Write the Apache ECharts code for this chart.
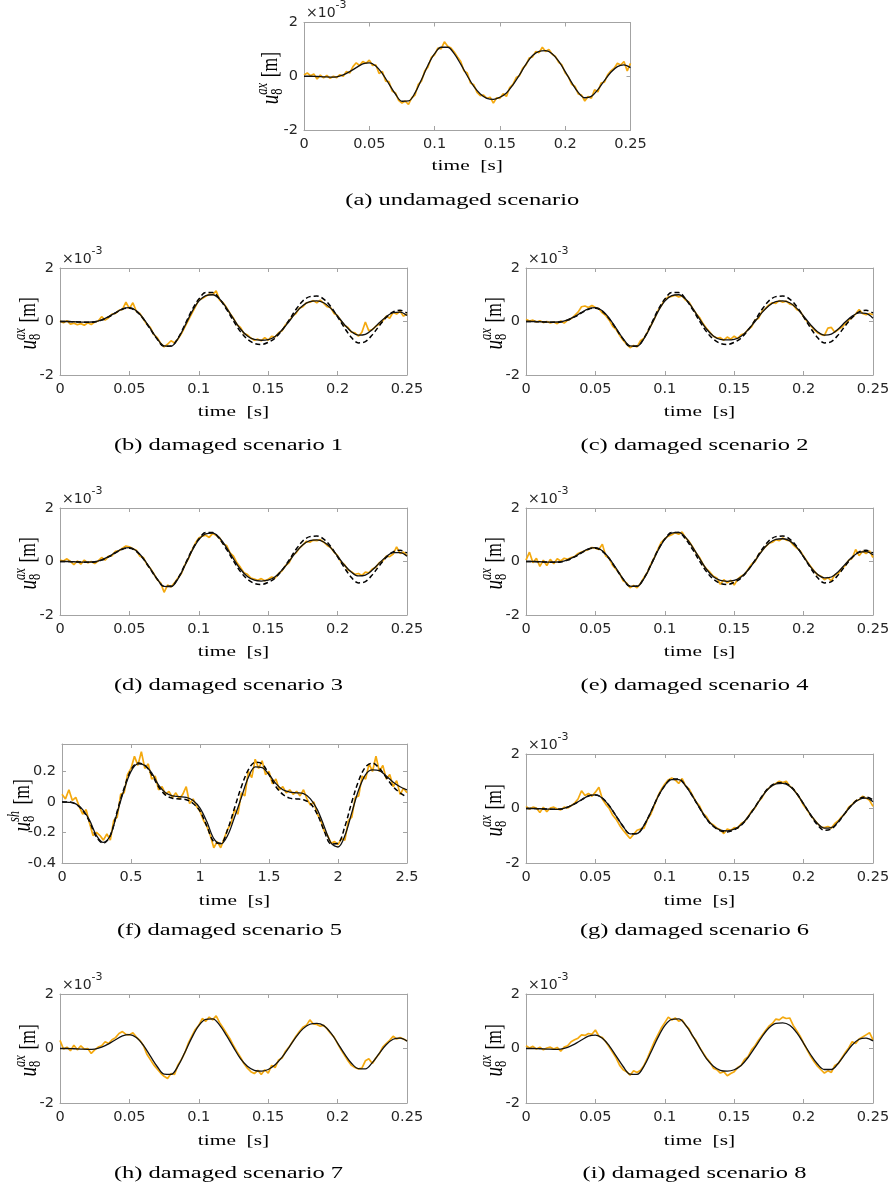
<!DOCTYPE html>
<html><head><meta charset="utf-8">
<script src="https://cdn.jsdelivr.net/npm/echarts@6/dist/echarts.min.js"></script>
<style>html,body{margin:0;padding:0;background:#fff}#c{width:893px;height:1191px}</style>
</head><body><div id="c"></div>
<script>
// ---------- tick labels ----------
const xTicksShort = [0, 0.05, 0.1, 0.15, 0.2, 0.25];
const xTicksLong = [0, 0.5, 1, 1.5, 2, 2.5];
const yTicksAx = [-2, 0, 2];          // x 10^-3 m
const yTicksSh = [-0.4, -0.2, 0, 0.2];
const yMaxSh = 0.38;

// ---------- time samples ----------
const tModel = [0,0.005,0.01,0.015,0.02,0.025,0.03,0.035,0.04,0.045,
  0.05,0.055,0.06,0.065,0.07,0.075,0.08,0.085,0.09,0.095,
  0.1,0.105,0.11,0.115,0.12,0.125,0.13,0.135,0.14,0.145,
  0.15,0.155,0.16,0.165,0.17,0.175,0.18,0.185,0.19,0.195,
  0.2,0.205,0.21,0.215,0.22,0.225,0.23,0.235,0.24,0.245,0.25];
const tMeas = [0,0.0025,0.005,0.0075,0.01,0.0125,0.015,0.0175,0.02,0.0225,
  0.025,0.0275,0.03,0.0325,0.035,0.0375,0.04,0.0425,0.045,0.0475,
  0.05,0.0525,0.055,0.0575,0.06,0.0625,0.065,0.0675,0.07,0.0725,
  0.075,0.0775,0.08,0.0825,0.085,0.0875,0.09,0.0925,0.095,0.0975,
  0.1,0.1025,0.105,0.1075,0.11,0.1125,0.115,0.1175,0.12,0.1225,
  0.125,0.1275,0.13,0.1325,0.135,0.1375,0.14,0.1425,0.145,0.1475,
  0.15,0.1525,0.155,0.1575,0.16,0.1625,0.165,0.1675,0.17,0.1725,
  0.175,0.1775,0.18,0.1825,0.185,0.1875,0.19,0.1925,0.195,0.1975,
  0.2,0.2025,0.205,0.2075,0.21,0.2125,0.215,0.2175,0.22,0.2225,
  0.225,0.2275,0.23,0.2325,0.235,0.2375,0.24,0.2425,0.245,0.2475,0.25];
const tModelF = [0,0.05,0.1,0.15,0.2,0.25,0.3,0.35,0.4,0.45,
  0.5,0.55,0.6,0.65,0.7,0.75,0.8,0.85,0.9,0.95,
  1,1.05,1.1,1.15,1.2,1.25,1.3,1.35,1.4,1.45,
  1.5,1.55,1.6,1.65,1.7,1.75,1.8,1.85,1.9,1.95,
  2,2.05,2.1,2.15,2.2,2.25,2.3,2.35,2.4,2.45,2.5];
const tMeasF = [0,0.025,0.05,0.075,0.1,0.125,0.15,0.175,0.2,0.225,
  0.25,0.275,0.3,0.325,0.35,0.375,0.4,0.425,0.45,0.475,
  0.5,0.525,0.55,0.575,0.6,0.625,0.65,0.675,0.7,0.725,
  0.75,0.775,0.8,0.825,0.85,0.875,0.9,0.925,0.95,0.975,
  1,1.025,1.05,1.075,1.1,1.125,1.15,1.175,1.2,1.225,
  1.25,1.275,1.3,1.325,1.35,1.375,1.4,1.425,1.45,1.475,
  1.5,1.525,1.55,1.575,1.6,1.625,1.65,1.675,1.7,1.725,
  1.75,1.775,1.8,1.825,1.85,1.875,1.9,1.925,1.95,1.975,
  2,2.025,2.05,2.075,2.1,2.125,2.15,2.175,2.2,2.225,
  2.25,2.275,2.3,2.325,2.35,2.375,2.4,2.425,2.45,2.475,2.5];

// ---------- model responses (x 10^-3 m) ----------
const modelUndamaged = [0.00,0.00,-0.01,-0.02,-0.03,-0.02,0.05,0.17,0.32,0.46,
  0.50,0.38,0.10,-0.28,-0.66,-0.93,-0.92,-0.62,-0.12,0.42,
  0.84,1.08,1.08,0.84,0.45,0.02,-0.38,-0.66,-0.82,-0.86,
  -0.78,-0.62,-0.32,0.05,0.45,0.77,0.93,0.95,0.84,0.56,
  0.17,-0.24,-0.60,-0.80,-0.75,-0.50,-0.16,0.15,0.36,0.42,0.32];
const modelB = [0,0,-0.01,-0.02,-0.02,-0.01,0.06,0.18,0.33,0.47,
  0.52,0.40,0.12,-0.26,-0.64,-0.91,-0.92,-0.64,-0.16,0.36,
  0.76,0.97,1.00,0.84,0.50,0.10,-0.28,-0.54,-0.67,-0.70,
  -0.68,-0.56,-0.32,0.00,0.34,0.60,0.74,0.77,0.70,0.50,
  0.20,-0.12,-0.38,-0.51,-0.48,-0.30,-0.05,0.18,0.33,0.35,0.22];
const modelC = [0,0,-0.01,-0.02,-0.02,-0.01,0.06,0.18,0.34,0.47,
  0.52,0.40,0.12,-0.26,-0.64,-0.91,-0.92,-0.64,-0.16,0.36,
  0.76,0.97,1.00,0.84,0.50,0.10,-0.28,-0.54,-0.67,-0.69,
  -0.67,-0.55,-0.31,0.00,0.33,0.59,0.74,0.77,0.70,0.50,
  0.20,-0.12,-0.38,-0.51,-0.47,-0.28,-0.02,0.20,0.32,0.30,0.12];
const modelD = [0,0,-0.01,-0.02,-0.02,-0.01,0.06,0.18,0.34,0.47,
  0.52,0.40,0.12,-0.26,-0.65,-0.93,-0.94,-0.65,-0.15,0.39,
  0.81,1.03,1.06,0.88,0.52,0.10,-0.29,-0.56,-0.70,-0.73,
  -0.70,-0.57,-0.32,0.00,0.35,0.63,0.78,0.81,0.73,0.52,
  0.20,-0.14,-0.40,-0.54,-0.51,-0.32,-0.06,0.18,0.33,0.33,0.20];
const modelE = [0,0,-0.01,-0.02,-0.02,-0.01,0.06,0.18,0.34,0.47,
  0.52,0.40,0.12,-0.26,-0.65,-0.92,-0.93,-0.64,-0.14,0.40,
  0.83,1.06,1.09,0.90,0.54,0.12,-0.29,-0.57,-0.71,-0.74,
  -0.71,-0.58,-0.32,0.02,0.39,0.68,0.83,0.85,0.77,0.54,
  0.18,-0.20,-0.48,-0.61,-0.58,-0.38,-0.10,0.17,0.34,0.37,0.25];
const modelG = [0,0,-0.01,-0.02,-0.03,-0.02,0.05,0.17,0.32,0.46,
  0.50,0.38,0.10,-0.28,-0.66,-0.93,-0.92,-0.62,-0.12,0.42,
  0.84,1.06,1.06,0.83,0.45,0.03,-0.37,-0.64,-0.79,-0.82,
  -0.76,-0.60,-0.31,0.05,0.43,0.74,0.90,0.92,0.82,0.55,
  0.17,-0.22,-0.55,-0.72,-0.70,-0.48,-0.16,0.14,0.33,0.38,0.25];
const modelH = [0,0,-0.01,-0.02,-0.03,-0.02,0.05,0.17,0.32,0.46,
  0.51,0.40,0.12,-0.27,-0.66,-0.94,-0.95,-0.65,-0.14,0.40,
  0.84,1.07,1.09,0.86,0.47,0.04,-0.37,-0.65,-0.80,-0.83,
  -0.77,-0.60,-0.32,0.04,0.42,0.72,0.89,0.92,0.84,0.58,
  0.20,-0.20,-0.54,-0.74,-0.75,-0.52,-0.18,0.14,0.34,0.38,0.27];
const modelI = [0,0,-0.01,-0.02,-0.03,-0.02,0.04,0.16,0.31,0.45,
  0.49,0.38,0.10,-0.28,-0.66,-0.94,-0.95,-0.65,-0.14,0.40,
  0.84,1.07,1.09,0.86,0.47,0.04,-0.37,-0.65,-0.80,-0.83,
  -0.78,-0.62,-0.33,0.04,0.43,0.75,0.92,0.94,0.85,0.58,
  0.19,-0.22,-0.57,-0.77,-0.77,-0.54,-0.20,0.13,0.34,0.38,0.28];
// shear response, scenario 5 (m)
const modelF = [0.000,-0.002,-0.012,-0.05,-0.12,-0.22,-0.265,-0.22,-0.07,0.08,
  0.20,0.25,0.24,0.19,0.11,0.06,0.04,0.035,0.03,0.01,
  -0.04,-0.13,-0.24,-0.275,-0.22,-0.10,0.03,0.16,0.23,0.225,
  0.18,0.12,0.08,0.065,0.06,0.055,0.02,-0.05,-0.16,-0.27,
  -0.295,-0.22,-0.07,0.08,0.18,0.21,0.205,0.17,0.13,0.10,0.08];
const modelFUndamaged = [0.00,0.00,-0.015,-0.055,-0.13,-0.23,-0.27,-0.22,-0.06,0.09,
  0.21,0.255,0.24,0.18,0.10,0.045,0.025,0.02,0.015,-0.01,
  -0.06,-0.16,-0.26,-0.27,-0.18,-0.04,0.10,0.21,0.26,0.25,
  0.18,0.10,0.05,0.025,0.02,0.015,-0.01,-0.08,-0.19,-0.275,
  -0.27,-0.16,0.00,0.14,0.23,0.255,0.22,0.16,0.10,0.06,0.03];

// ---------- measured (noisy) responses ----------
const measA = [0.05,0.12,0.02,0.08,-0.10,0.04,-0.06,0.03,-0.08,0.00,
  -0.05,0.06,0.00,0.18,0.12,0.36,0.50,0.40,0.55,0.48,
  0.60,0.40,0.42,0.10,0.18,-0.18,-0.20,-0.55,-0.62,-0.90,
  -1.00,-0.92,-1.05,-0.80,-0.70,-0.30,-0.18,0.20,0.35,0.70,
  0.80,1.05,1.02,1.28,1.12,1.05,0.90,0.72,0.55,0.20,
  0.12,-0.25,-0.32,-0.60,-0.72,-0.70,-0.82,-0.78,-1.00,-0.80,
  -0.82,-0.65,-0.75,-0.42,-0.30,-0.05,0.02,0.30,0.42,0.68,
  0.72,0.92,0.88,1.08,0.92,1.00,0.82,0.74,0.52,0.42,
  0.12,-0.02,-0.30,-0.38,-0.66,-0.70,-0.92,-0.75,-0.82,-0.50,
  -0.58,-0.25,-0.22,0.05,0.20,0.30,0.48,0.42,0.55,0.20,0.48];
const measB = [0.02,-0.05,0.03,-0.10,-0.06,-0.12,-0.08,-0.14,-0.05,-0.11,
  -0.02,0.02,0.18,0.05,0.14,0.28,0.30,0.42,0.45,0.72,
  0.48,0.70,0.38,0.30,0.10,-0.10,-0.22,-0.48,-0.60,-0.82,
  -0.95,-0.85,-0.72,-0.80,-0.66,-0.45,-0.20,0.05,0.30,0.55,
  0.80,0.86,0.94,1.02,1.00,1.15,0.80,0.70,0.52,0.30,
  0.12,-0.12,-0.22,-0.45,-0.50,-0.62,-0.70,-0.66,-0.72,-0.60,
  -0.70,-0.55,-0.58,-0.42,-0.35,-0.12,0.02,0.20,0.30,0.50,
  0.55,0.70,0.72,0.78,0.70,0.80,0.68,0.55,0.52,0.30,
  0.22,0.02,-0.15,-0.22,-0.40,-0.42,-0.55,-0.40,-0.02,-0.35,
  -0.30,-0.18,-0.10,0.02,0.20,0.12,0.35,0.28,0.38,0.20,0.28];
const measC = [0.08,0.02,0.05,-0.02,0.03,-0.04,0.00,-0.05,-0.02,-0.08,
  0.02,-0.06,0.05,0.10,0.22,0.35,0.55,0.58,0.52,0.60,
  0.52,0.48,0.32,0.22,0.05,-0.18,-0.30,-0.52,-0.70,-0.85,
  -0.98,-0.90,-0.95,-0.72,-0.62,-0.40,-0.15,0.10,0.40,0.60,
  0.82,0.92,0.94,0.98,0.92,0.96,0.80,0.72,0.50,0.30,
  0.15,-0.08,-0.25,-0.40,-0.55,-0.62,-0.60,-0.70,-0.58,-0.66,
  -0.55,-0.64,-0.50,-0.45,-0.30,-0.20,0.05,0.12,0.38,0.48,
  0.62,0.70,0.68,0.78,0.72,0.76,0.65,0.62,0.45,0.38,
  0.18,0.00,-0.15,-0.30,-0.42,-0.48,-0.52,-0.25,-0.22,-0.40,
  -0.30,-0.22,-0.08,0.05,0.15,0.28,0.45,0.30,0.25,0.30,0.25];
const measD = [0.05,0.02,0.10,0.00,-0.12,0.02,-0.10,0.05,-0.05,0.00,
  -0.08,0.02,0.15,0.05,0.20,0.22,0.38,0.40,0.50,0.58,
  0.55,0.48,0.42,0.20,0.15,-0.10,-0.25,-0.45,-0.68,-0.80,
  -1.15,-0.88,-0.95,-0.80,-0.62,-0.45,-0.12,0.10,0.42,0.68,
  0.88,0.95,0.98,0.90,1.05,0.98,0.88,0.66,0.60,0.32,
  0.20,-0.05,-0.22,-0.42,-0.48,-0.62,-0.66,-0.70,-0.64,-0.72,
  -0.66,-0.58,-0.62,-0.45,-0.35,-0.15,-0.05,0.22,0.32,0.50,
  0.62,0.75,0.72,0.80,0.78,0.82,0.72,0.60,0.52,0.35,
  0.22,-0.02,-0.12,-0.32,-0.38,-0.48,-0.45,-0.52,-0.40,-0.42,
  -0.28,-0.22,-0.05,0.02,0.20,0.18,0.28,0.55,0.30,0.35,0.22];
const measE = [0.05,0.35,-0.05,0.12,-0.18,0.05,-0.15,0.08,-0.08,0.10,
  0.02,0.12,0.08,0.15,0.18,0.30,0.35,0.40,0.45,0.52,
  0.50,0.45,0.65,0.20,0.12,-0.15,-0.30,-0.45,-0.72,-0.80,
  -0.98,-0.90,-0.98,-0.82,-0.60,-0.40,-0.10,0.15,0.45,0.72,
  0.85,0.95,1.00,1.08,1.02,1.10,0.88,0.75,0.55,0.32,
  0.15,-0.10,-0.28,-0.40,-0.55,-0.62,-0.85,-0.68,-0.80,-0.70,
  -0.88,-0.66,-0.55,-0.48,-0.30,-0.10,0.00,0.25,0.40,0.55,
  0.68,0.72,0.82,0.78,0.88,0.80,0.78,0.62,0.50,0.40,
  0.20,0.00,-0.18,-0.35,-0.50,-0.55,-0.68,-0.60,-0.72,-0.50,
  -0.45,-0.28,-0.15,0.05,0.12,0.45,0.22,0.38,0.30,0.40,0.15];
const measF = [0.05,0.02,0.08,0.01,0.03,-0.03,-0.08,-0.05,-0.14,-0.22,
  -0.20,-0.22,-0.25,-0.21,-0.25,-0.12,-0.10,0.05,0.06,0.18,
  0.22,0.30,0.24,0.33,0.22,0.25,0.15,0.17,0.08,0.10,
  0.05,0.07,0.03,0.06,0.02,0.05,0.10,-0.01,0.02,-0.03,
  -0.06,-0.12,-0.16,-0.22,-0.30,-0.26,-0.30,-0.24,-0.18,-0.14,
  -0.05,-0.08,0.06,0.04,0.20,0.16,0.28,0.22,0.27,0.18,
  0.20,0.12,0.15,0.08,0.10,0.06,0.08,0.05,0.07,0.04,
  0.08,0.02,-0.02,0.00,-0.08,-0.12,-0.19,-0.22,-0.27,-0.26,
  -0.28,-0.24,-0.25,-0.12,-0.10,0.03,0.04,0.17,0.15,0.25,
  0.20,0.30,0.20,0.24,0.15,0.18,0.10,0.14,0.05,0.09,0.06];
const measG = [0.08,-0.02,0.05,0.02,-0.15,0.05,-0.12,0.02,0.05,-0.02,
  -0.05,0.05,0.02,0.10,0.20,0.35,0.65,0.48,0.55,0.45,
  0.60,0.78,0.35,0.15,0.00,-0.25,-0.40,-0.62,-0.80,-0.95,
  -1.10,-0.95,-0.80,-0.75,-0.72,-0.40,-0.20,0.12,0.45,0.70,
  0.90,1.05,1.12,1.05,0.92,1.10,0.82,0.72,0.48,0.25,
  0.10,-0.18,-0.30,-0.52,-0.60,-0.72,-0.78,-0.92,-0.75,-0.80,
  -0.70,-0.72,-0.55,-0.48,-0.30,-0.10,0.02,0.25,0.40,0.62,
  0.75,0.85,0.92,1.00,0.95,1.00,0.82,0.72,0.55,0.36,
  0.12,-0.05,-0.25,-0.40,-0.55,-0.68,-0.70,-0.66,-0.72,-0.55,
  -0.45,-0.30,-0.18,0.05,0.15,0.28,0.32,0.45,0.38,0.30,0.08];
const measH = [0.30,-0.02,0.05,-0.08,0.12,-0.05,0.10,-0.02,0.00,-0.18,
  -0.05,0.05,0.10,0.25,0.18,0.32,0.40,0.55,0.62,0.52,
  0.50,0.58,0.42,0.30,0.12,-0.20,-0.40,-0.60,-0.75,-0.90,
  -1.02,-1.10,-0.92,-0.95,-0.60,-0.40,-0.15,0.20,0.45,0.70,
  0.85,1.10,1.00,1.15,1.05,1.20,0.95,0.75,0.55,0.35,
  0.10,-0.12,-0.32,-0.55,-0.72,-0.85,-0.92,-0.80,-0.95,-0.78,
  -0.90,-0.62,-0.70,-0.42,-0.35,-0.10,0.05,0.25,0.45,0.62,
  0.78,0.85,1.05,0.90,0.88,0.82,0.85,0.72,0.55,0.42,
  0.18,-0.05,-0.25,-0.45,-0.62,-0.70,-0.75,-0.72,-0.45,-0.38,
  -0.55,-0.35,-0.20,0.05,0.18,0.30,0.45,0.35,0.40,0.35,0.28];
const measI = [0.10,0.02,0.08,-0.02,0.05,-0.05,0.02,0.05,-0.02,0.04,
  -0.10,0.05,0.10,0.25,0.32,0.38,0.50,0.48,0.55,0.52,
  0.68,0.45,0.40,0.25,0.05,-0.15,-0.35,-0.62,-0.78,-0.85,
  -0.98,-0.82,-0.88,-0.80,-0.62,-0.35,-0.05,0.25,0.50,0.75,
  0.95,1.15,1.05,1.12,1.00,1.05,0.85,0.72,0.45,0.30,
  0.05,-0.15,-0.35,-0.50,-0.72,-0.78,-0.90,-0.85,-1.00,-0.92,
  -0.85,-0.70,-0.62,-0.40,-0.30,-0.05,0.10,0.30,0.48,0.65,
  0.82,0.92,1.08,1.05,1.15,1.10,1.12,0.85,0.65,0.45,
  0.20,-0.05,-0.28,-0.48,-0.65,-0.78,-0.90,-0.82,-0.88,-0.62,
  -0.55,-0.35,-0.15,0.02,0.25,0.18,0.35,0.42,0.50,0.58,0.32];

// ---------- panel definitions (data references) ----------
const panelData = [
  {cap:'(a) undamaged scenario', sup:'ax', xt:xTicksShort, yt:yTicksAx, tm:tMeas, tM:tModel, meas:measA, model:modelUndamaged, dash:null},
  {cap:'(b) damaged scenario 1', sup:'ax', xt:xTicksShort, yt:yTicksAx, tm:tMeas, tM:tModel, meas:measB, model:modelB, dash:modelUndamaged},
  {cap:'(c) damaged scenario 2', sup:'ax', xt:xTicksShort, yt:yTicksAx, tm:tMeas, tM:tModel, meas:measC, model:modelC, dash:modelUndamaged},
  {cap:'(d) damaged scenario 3', sup:'ax', xt:xTicksShort, yt:yTicksAx, tm:tMeas, tM:tModel, meas:measD, model:modelD, dash:modelUndamaged},
  {cap:'(e) damaged scenario 4', sup:'ax', xt:xTicksShort, yt:yTicksAx, tm:tMeas, tM:tModel, meas:measE, model:modelE, dash:modelUndamaged},
  {cap:'(f) damaged scenario 5', sup:'sh', xt:xTicksLong, yt:yTicksSh, yMax:yMaxSh, tm:tMeasF, tM:tModelF, meas:measF, model:modelF, dash:modelFUndamaged},
  {cap:'(g) damaged scenario 6', sup:'ax', xt:xTicksShort, yt:yTicksAx, tm:tMeas, tM:tModel, meas:measG, model:modelG, dash:modelUndamaged},
  {cap:'(h) damaged scenario 7', sup:'ax', xt:xTicksShort, yt:yTicksAx, tm:tMeas, tM:tModel, meas:measH, model:modelH, dash:null},
  {cap:'(i) damaged scenario 8', sup:'ax', xt:xTicksShort, yt:yTicksAx, tm:tMeas, tM:tModel, meas:measI, model:modelI, dash:null}
];

// ---------- layout (pixels) ----------
const layout = [
  {left:304, top:22.5, w:326.5, h:107.5, timeY:165.5, capY:200, ylx:33, exp:true},
  {left:60,  top:268,  w:347,   h:107,   timeY:411.5, capY:445, ylx:31, exp:true},
  {left:526, top:268,  w:347,   h:107,   timeY:411.5, capY:445, ylx:31, exp:true},
  {left:60,  top:508,  w:347,   h:107,   timeY:651.5, capY:685, ylx:31, exp:true},
  {left:526, top:508,  w:347,   h:107,   timeY:651.5, capY:685, ylx:31, exp:true},
  {left:62,  top:744,  w:345,   h:119,   timeY:900.5, capY:930, ylx:39, exp:false},
  {left:526, top:754,  w:347,   h:109,   timeY:900.5, capY:930, ylx:31, exp:true},
  {left:60,  top:994,  w:347,   h:109,   timeY:1140.5, capY:1173, ylx:31, exp:true},
  {left:526, top:994,  w:347,   h:109,   timeY:1140.5, capY:1173, ylx:31, exp:true}
];

const BOX = '#a3a3a3', TXT = '#262626', ORANGE = '#f4a90f';
const tickFont = {fontFamily:'DejaVu Sans', fontSize:14.5, color:TXT};
const pairs = (t, v) => v.map((y, i) => [t[i], y]);

const grids = [], xAxes = [], yAxes = [], series = [], graphics = [];
panelData.forEach((p, i) => {
  const L = layout[i];
  grids.push({left:L.left, top:L.top, width:L.w, height:L.h, containLabel:false});
  const xmin = p.xt[0], xmax = p.xt[p.xt.length-1], xint = p.xt[1]-p.xt[0];
  const ymin = p.yt[0], ymax = (p.yMax !== undefined ? p.yMax : p.yt[p.yt.length-1]), yint = p.yt[1]-p.yt[0];
  const common = {type:'value', gridIndex:i, splitLine:{show:false},
    axisLine:{show:true, onZero:false, lineStyle:{color:BOX, width:1}},
    axisTick:{show:true, inside:true, length:4, lineStyle:{color:BOX, width:1}}};
  xAxes.push(Object.assign({}, common, {position:'bottom', min:xmin, max:xmax, interval:xint,
    axisLabel:Object.assign({margin:7, hideOverlap:false}, tickFont)}));
  xAxes.push(Object.assign({}, common, {position:'top', min:xmin, max:xmax, interval:xint,
    axisLabel:{show:false}}));
  yAxes.push(Object.assign({}, common, {position:'left', min:ymin, max:ymax, interval:yint,
    axisLabel:Object.assign({margin:6, showMaxLabel: p.yMax === undefined}, tickFont)}));
  yAxes.push(Object.assign({}, common, {position:'right', min:ymin, max:ymax, interval:yint,
    axisLabel:{show:false}}));
  const xi = 2*i, yi = 2*i;
  series.push({type:'line', xAxisIndex:xi, yAxisIndex:yi, data:pairs(p.tm, p.meas), showSymbol:false,
    symbol:'none', lineStyle:{color:ORANGE, width:1.7}, silent:true, z:2});
  if (p.dash) series.push({type:'line', xAxisIndex:xi, yAxisIndex:yi, data:pairs(p.tM, p.dash), showSymbol:false,
    symbol:'none', smooth:0.35, lineStyle:{color:'#000', width:1.5, type:[5,3]}, silent:true, z:3});
  series.push({type:'line', xAxisIndex:xi, yAxisIndex:yi, data:pairs(p.tM, p.model), showSymbol:false,
    symbol:'none', smooth:0.35, lineStyle:{color:'#111', width:1.3}, silent:true, z:4});

  const cx = L.left + L.w/2;
  graphics.push({type:'text', x:cx, y:L.timeY, scaleX:1.38, silent:true,
    style:{text:'time  [s]', font:'15.5px "Liberation Serif"', fill:'#000', align:'center', verticalAlign:'middle', textAlign:'center', textVerticalAlign:'middle'}});
  graphics.push({type:'text', x:cx - 5, y:L.capY, scaleX:1.4, silent:true,
    style:{text:p.cap, font:'17.5px "Liberation Serif"', fill:'#000', align:'center', verticalAlign:'middle', textAlign:'center', textVerticalAlign:'middle'}});
  if (L.exp) {
    graphics.push({type:'text', x:L.left + 2, y:L.top - 9, silent:true,
      style:{text:'×10', font:'14px "DejaVu Sans"', fill:TXT, align:'left', verticalAlign:'middle', textAlign:'left', textVerticalAlign:'middle'}});
    graphics.push({type:'text', x:L.left + 31.5, y:L.top - 17, silent:true,
      style:{text:'-3', font:'11px "DejaVu Sans"', fill:TXT, align:'left', verticalAlign:'middle', textAlign:'left', textVerticalAlign:'middle'}});
  }
  // y-axis label  u_8^{ax} [m]  (rotated)
  const u0 = -28;
  const ts = (text, x, y, font) => ({type:'text', x:x, y:y, silent:true,
    style:{text:text, font:font, fill:'#000', align:'left', verticalAlign:'middle', textAlign:'left', textVerticalAlign:'middle'}});
  graphics.push({type:'group', x:L.left - L.ylx, y:L.top + L.h/2, rotation:Math.PI/2, scaleY:1.3, silent:true,
    children:[
      ts('u', u0, 0, 'italic 19px "Liberation Serif"'),
      ts('8', u0 + 9.5, 5, '12.5px "Liberation Serif"'),
      ts(p.sup, u0 + 9.5, -6.5, 'italic 12.5px "Liberation Serif"'),
      ts('[m]', u0 + 27, 0, '17.5px "Liberation Serif"')
    ]});
});

const chart = echarts.init(document.getElementById('c'), null, {renderer:'canvas'});
chart.setOption({
  animation:false,
  backgroundColor:'#fff',
  grid:grids, xAxis:xAxes, yAxis:yAxes, series:series, graphic:{elements:graphics}
});
</script></body></html>
